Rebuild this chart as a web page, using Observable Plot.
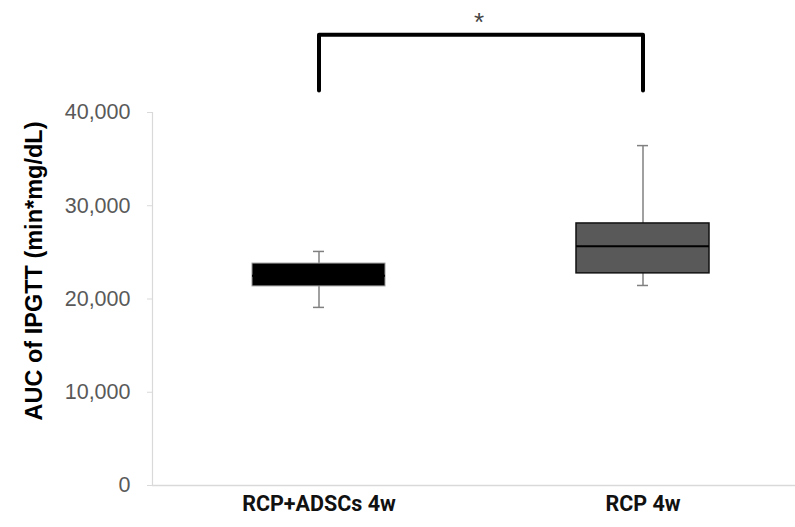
<!DOCTYPE html>
<html>
<head>
<meta charset="utf-8">
<script src="https://cdn.jsdelivr.net/npm/d3@7"></script>
<script src="https://cdn.jsdelivr.net/npm/@observablehq/plot@0.6"></script>
<style>
  html, body { margin: 0; padding: 0; background: #fff; }
</style>
</head>
<body>
<div id="chart"></div>
<script>
// ---- data ----
const groups = ["RCP+ADSCs 4w", "RCP 4w"];
const minVals = [19100, 21450];
const q1Vals = [21350, 22750];
const medianVals = [22500, 25650];
const q3Vals = [23800, 28100];
const maxVals = [25100, 36450];
const yTicks = [0, 10000, 20000, 30000, 40000];
const bracketLow = 42350;
const bracketHigh = 48350;
const yTitle = "AUC of IPGTT (min*mg/dL)";
const sigLabel = "*";

const boxes = groups.map((g, i) => ({
  group: g, min: minVals[i], q1: q1Vals[i], median: medianVals[i], q3: q3Vals[i], max: maxVals[i]
}));
const bracket = [
  {x: groups[0], y: bracketLow},
  {x: groups[0], y: bracketHigh},
  {x: groups[1], y: bracketHigh},
  {x: groups[1], y: bracketLow}
];

const chart = Plot.plot({
  width: 795,
  height: 527,
  marginTop: 112,
  marginBottom: 42,
  marginLeft: 152,
  marginRight: 0,
  style: {fontFamily: "Liberation Sans", background: "#fff"},
  x: {domain: groups, range: [152, 808], paddingInner: 0.59, paddingOuter: 0.307, axis: null},
  y: {domain: [0, 40000], axis: null},
  marks: [
    Plot.frame({anchor: "left", stroke: "#d9d9d9", strokeWidth: 1.2}),
    Plot.ruleY([0], {stroke: "#d9d9d9", strokeWidth: 1.5}),
    Plot.axisY({
      ticks: yTicks, tickFormat: d3.format(","), tickSize: 5, tickPadding: 17,
      stroke: "#d9d9d9", fill: "#595959", fontSize: 21.5, label: null
    }),
    Plot.axisX({
      tickSize: 0, tickPadding: 10, fontSize: 21.5, fontWeight: "bold",
      fontFamily: "Roboto", fill: "#111", label: null
    }),
    // whiskers
    Plot.ruleX(boxes, {x: "group", y1: "min", y2: "max", stroke: "#808080", strokeWidth: 1.5}),
    Plot.tickY(boxes, {x: "group", y: "min", stroke: "#808080", strokeWidth: 1.5, insetLeft: 61, insetRight: 61}),
    Plot.tickY(boxes, {x: "group", y: "max", stroke: "#808080", strokeWidth: 1.5, insetLeft: 61, insetRight: 61}),
    // boxes
    Plot.barY(boxes.filter((d, i) => i === 0), {x: "group", y1: "q1", y2: "q3", fill: "#000", stroke: "#999", strokeWidth: 1}),
    Plot.barY(boxes.filter((d, i) => i === 1), {x: "group", y1: "q1", y2: "q3", fill: "#595959", stroke: "#111", strokeWidth: 1.5}),
    Plot.tickY(boxes, {x: "group", y: "median", stroke: "#000", strokeWidth: 2}),
    // significance bracket
    Plot.line(bracket, {x: "x", y: "y", stroke: "#000", strokeWidth: 4, clip: false}),
    Plot.text([sigLabel], {text: d => d, frameAnchor: "top", textAnchor: "middle", dx: 5, dy: -100, fontSize: 26, fill: "#444"}),
    // y title
    Plot.text([yTitle], {
      text: d => d, frameAnchor: "left", textAnchor: "middle", lineAnchor: "middle",
      dx: -118, dy: -28, rotate: -90,
      fontSize: 23.5, fontWeight: "bold", fill: "#000"
    })
  ]
});
document.getElementById("chart").appendChild(chart);
</script>
</body>
</html>
